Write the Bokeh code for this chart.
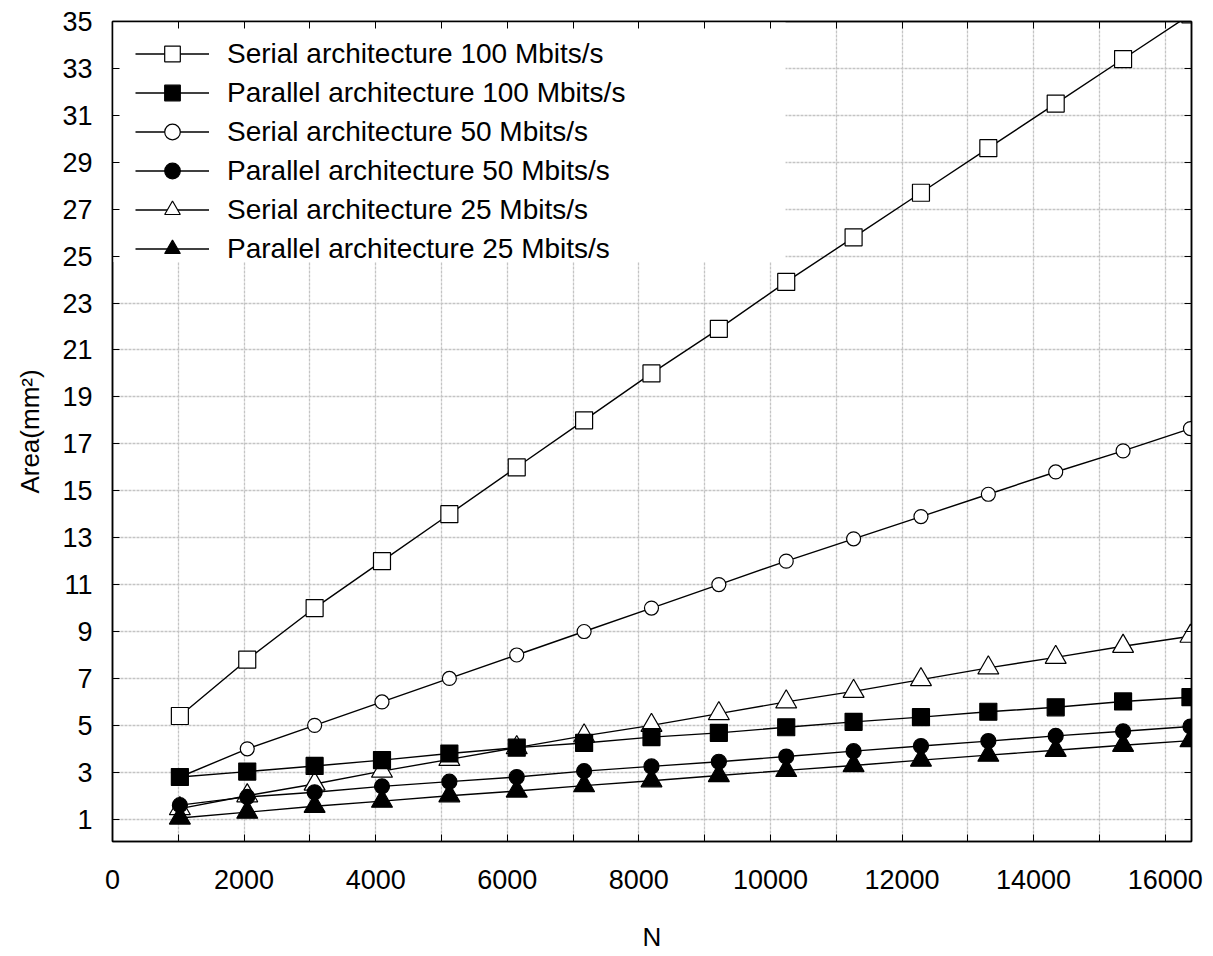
from bokeh.plotting import figure
from bokeh.models import (Range1d, FixedTicker, LinearAxis, Legend, LegendItem,
                          BoxAnnotation)
from bokeh.embed import file_html
from bokeh.resources import INLINE

# ---- data -------------------------------------------------------------
N = [1024, 2048, 3072, 4096, 5120, 6144, 7168, 8192,
     9216, 10240, 11264, 12288, 13312, 14336, 15360, 16384]

serial_100 = [5.4, 7.8, 10.0, 12.0, 14.0, 16.0, 18.0, 20.0,
              21.9, 23.9, 25.8, 27.7, 29.6, 31.5, 33.4, 35.3]
parallel_100 = [2.8, 3.03, 3.27, 3.52, 3.8, 4.05, 4.25, 4.5,
                4.68, 4.92, 5.15, 5.35, 5.58, 5.77, 6.02, 6.2]
serial_50 = [2.8, 4.0, 5.0, 6.0, 7.0, 8.0, 9.0, 10.0,
             11.0, 12.0, 12.95, 13.9, 14.85, 15.8, 16.7, 17.65]
parallel_50 = [1.6, 1.95, 2.15, 2.4, 2.6, 2.8, 3.05, 3.25,
               3.45, 3.67, 3.9, 4.12, 4.33, 4.55, 4.75, 4.95]
serial_25 = [1.45, 2.0, 2.5, 3.05, 3.55, 4.05, 4.55, 5.0,
             5.5, 6.0, 6.45, 6.95, 7.45, 7.9, 8.37, 8.8]
parallel_25 = [1.05, 1.3, 1.55, 1.77, 2.0, 2.2, 2.43, 2.64,
               2.86, 3.08, 3.29, 3.52, 3.73, 3.94, 4.15, 4.35]

labels = ["Serial architecture 100 Mbits/s",
          "Parallel architecture 100 Mbits/s",
          "Serial architecture 50 Mbits/s",
          "Parallel architecture 50 Mbits/s",
          "Serial architecture 25 Mbits/s",
          "Parallel architecture 25 Mbits/s"]

x_ticks = [0, 1000, 2000, 3000, 4000, 5000, 6000, 7000, 8000,
           9000, 10000, 11000, 12000, 13000, 14000, 15000, 16000]
x_tick_labels = ["0", "", "2000", "", "4000", "", "6000", "", "8000",
                 "", "10000", "", "12000", "", "14000", "", "16000"]
y_ticks = [1, 3, 5, 7, 9, 11, 13, 15, 17, 19, 21, 23, 25, 27, 29, 31, 33, 35]
y_tick_labels = [str(v) for v in y_ticks]

# ---- figure -----------------------------------------------------------
FONT = "Liberation Sans"

p = figure(width=1203, height=954,
           x_range=Range1d(0, 16400), y_range=Range1d(0.05, 35),
           output_backend="svg", toolbar_location=None,
           min_border_left=112, min_border_right=12,
           min_border_top=21, min_border_bottom=108,
           x_axis_label="N", y_axis_label="Area(mm²)")
p.background_fill_color = "white"
p.border_fill_color = "white"
p.outline_line_color = "black"
p.outline_line_width = 1.5

xt = FixedTicker(ticks=x_ticks, minor_ticks=[])
yt = FixedTicker(ticks=y_ticks, minor_ticks=[])

for ax in p.xaxis:
    ax.ticker = xt
    ax.major_label_overrides = dict(zip(x_ticks, x_tick_labels))
for ax in p.yaxis:
    ax.ticker = yt
    ax.major_label_overrides = dict(zip(y_ticks, y_tick_labels))

for ax in list(p.xaxis) + list(p.yaxis):
    ax.axis_line_color = "black"
    ax.axis_line_width = 1.5
    ax.major_tick_in = 7
    ax.major_tick_out = 0
    ax.major_tick_line_color = "black"
    ax.minor_tick_line_color = None
    ax.major_label_text_font = FONT
    ax.major_label_text_font_size = "27px"
    ax.major_label_text_color = "black"
    ax.axis_label_text_font = FONT
    ax.axis_label_text_font_style = "normal"
    ax.axis_label_text_color = "black"

p.xaxis.major_label_standoff = 28
p.xaxis.axis_label_standoff = 30
p.xaxis.axis_label_text_font_size = "26px"
p.yaxis.major_label_standoff = 20
p.yaxis.axis_label_standoff = 14
p.yaxis.axis_label_text_font_size = "26px"

for place, tk, ticks in (("right", yt, y_ticks), ("above", xt, x_ticks)):
    ax = LinearAxis(ticker=tk,
                    major_label_overrides={t: "" for t in ticks},
                    major_tick_in=7, major_tick_out=0,
                    major_label_standoff=0,
                    axis_line_color="black", axis_line_width=1.5,
                    major_tick_line_color="black", minor_tick_line_color=None)
    p.add_layout(ax, place)

p.xgrid.ticker = xt
p.ygrid.ticker = yt
for g in (p.xgrid, p.ygrid):
    g.grid_line_color = "#c4c4c4"
    g.grid_line_width = 1.3
    g.grid_line_dash = "3 1"

# white area behind the legend, hiding the grid there
legend_bg = BoxAnnotation(left=0, right=10230, bottom=24.75, top=35,
                          fill_color="white", fill_alpha=1.0,
                          line_color=None, level="underlay")
p.add_layout(legend_bg)

# ---- series -----------------------------------------------------------
series = [
    (labels[0], serial_100, "square", "white", 17),
    (labels[2], serial_50, "circle", "white", 14),
    (labels[4], serial_25, "triangle", "white", 21),
    (labels[1], parallel_100, "square", "black", 17),
    (labels[3], parallel_50, "circle", "black", 15),
    (labels[5], parallel_25, "triangle", "black", 21),
]

rends = {}
for lab, vals, marker, fill, size in series:
    lr = p.line(N, vals, line_color="black", line_width=1.4)
    sr = p.scatter(N, vals, marker=marker, size=size, fill_color=fill,
                   line_color="black", line_width=1.2)
    rends[lab] = [lr, sr]

items = [LegendItem(label=lab, renderers=rends[lab]) for lab in labels]
legend = Legend(items=items, location=(23, 573), margin=0, padding=9,
                spacing=0, label_height=39, glyph_height=39, glyph_width=74,
                label_standoff=18, label_text_font=FONT,
                label_text_font_size="28px", label_text_color="black",
                background_fill_alpha=0, border_line_color=None)
p.add_layout(legend, "center")

open("out.html", "w").write(file_html(p, INLINE))
